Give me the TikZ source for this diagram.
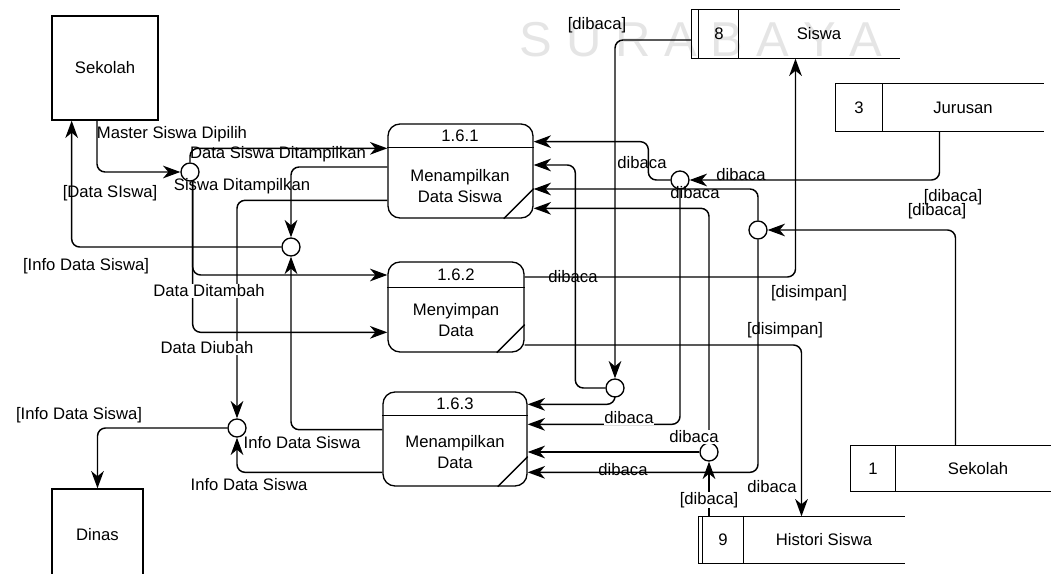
\documentclass[tikz,border=0pt]{standalone}
\usepackage{fontspec}
\setmainfont{Liberation Sans}
\usetikzlibrary{arrows.meta}

\tikzset{
  flow/.style={line width=1.1pt, rounded corners=6pt, arrows={-Stealth[length=13pt,width=9.5pt,inset=4pt]}},
  jn/.style={circle, draw, line width=1pt, fill=white, minimum size=13.5pt, inner sep=0pt},
  ent/.style={rectangle, draw, line width=1pt},
  proses/.style={rectangle, draw, rounded corners=9pt, line width=1pt},
  store/.style={rectangle, draw=none, inner sep=0pt},
  lbl/.style={inner sep=1pt},
  lblbg/.style={inner sep=0.5pt, fill=white}
}

\begin{document}
\begin{tikzpicture}[x=0.75pt, y=-0.75pt, line width=1pt, font=\fontsize{12.5}{15.5}\selectfont]

\useasboundingbox (0,0) rectangle (1051,574);

% watermark
\node[text=gray!20, font=\fontsize{36.75}{40}\selectfont] (wm) at (701,40) {S U R A B A Y A};

% external entities
\node[ent, minimum width=79.5pt, minimum height=78pt] (ext1) at (105,68) {Sekolah};
\node[ent, minimum width=68.25pt, minimum height=69pt] (ext2) at (97.5,535) {Dinas};

% processes
\node[proses, minimum width=108.75pt, minimum height=70.5pt] (p1) at (460.5,171) {};
\draw ([yshift=-18pt]p1.north west) -- ([yshift=-18pt]p1.north east);
\draw ([xshift=-22.5pt]p1.south east) -- ([yshift=22.5pt]p1.south east);
\node (p1n) at (460,136) {1.6.1};
\node[align=center] (p1t) at (460,186) {Menampilkan\\Data Siswa};

\node[proses, minimum width=102pt, minimum height=67.5pt] (p2) at (456,307) {};
\draw ([yshift=-19.5pt]p2.north west) -- ([yshift=-19.5pt]p2.north east);
\draw ([xshift=-21pt]p2.south east) -- ([yshift=21pt]p2.south east);
\node (p2n) at (456,275) {1.6.2};
\node[align=center] (p2t) at (456,320) {Menyimpan\\Data};

\node[proses, minimum width=108pt, minimum height=70.5pt] (p3) at (455,439) {};
\draw ([yshift=-18pt]p3.north west) -- ([yshift=-18pt]p3.north east);
\draw ([xshift=-22.5pt]p3.south east) -- ([yshift=22.5pt]p3.south east);
\node (p3n) at (455,404) {1.6.3};
\node[align=center] (p3t) at (455,452) {Menampilkan\\Data};

% data stores
\node[store, minimum width=155.25pt, minimum height=36pt] (s8) at (795.5,34) {};
\draw (s8.north east) -- (s8.north west) -- (s8.south west) -- (s8.south east);
\draw ([xshift=5.25pt]s8.north west) -- ([xshift=5.25pt]s8.south west);
\draw ([xshift=35.25pt]s8.north west) -- ([xshift=35.25pt]s8.south west);
\node (s8n) at (719,34) {8};
\node (s8t) at (819,34) {Siswa};

\node[store, minimum width=155.25pt, minimum height=35.25pt] (s3) at (939.5,107.5) {};
\draw (s3.north east) -- (s3.north west) -- (s3.south west) -- (s3.south east);
\draw ([xshift=35.25pt]s3.north west) -- ([xshift=35.25pt]s3.south west);
\node (s3n) at (859,108) {3};
\node (s3t) at (963,108) {Jurusan};

\node[store, minimum width=156.75pt, minimum height=33.75pt] (s1) at (955.5,468.5) {};
\draw (s1.north east) -- (s1.north west) -- (s1.south west) -- (s1.south east);
\draw ([xshift=33.75pt]s1.north west) -- ([xshift=33.75pt]s1.south west);
\node (s1n) at (873,469) {1};
\node (s1t) at (978,469) {Sekolah};

\node[store, minimum width=153.75pt, minimum height=34.5pt] (s9) at (801.5,540) {};
\draw (s9.north east) -- (s9.north west) -- (s9.south west) -- (s9.south east);
\draw ([xshift=3pt]s9.north west) -- ([xshift=3pt]s9.south west);
\draw ([xshift=33.75pt]s9.north west) -- ([xshift=33.75pt]s9.south west);
\node (s9n) at (723,540) {9};
\node (s9t) at (824,540) {Histori Siswa};

% junctions
\node[jn] (j1) at (190,172) {};
\node[jn] (j2) at (291,247) {};
\node[jn] (j3) at (680,180) {};
\node[jn] (j4) at (758,230) {};
\node[jn] (j5) at (615,388) {};
\node[jn] (j6) at (709,452) {};
\node[jn] (j7) at (237,428) {};

% flows, left part
\draw[flow] ([xshift=-6pt]ext1.south) |- (j1.west);
\draw[flow] (j1.north) |- ([yshift=17pt]p1.west);
\draw[flow] ([xshift=2pt]j1.south) |- ([yshift=24pt]p2.west);
\draw[flow] ([xshift=2pt]j1.south) |- ([yshift=-19pt]p2.west);
\draw[flow] ([yshift=3pt]p1.west) -| (j2.north);
\draw[flow] ([yshift=-22pt]p1.west) -| (j7.north);
\draw[flow] (j2.west) -| ([xshift=-25pt]ext1.south);
\draw[flow] ([yshift=7pt]p3.west) -| (j2.south);
\draw[flow] ([yshift=-25pt]p3.west) -| (j7.south);
\draw[flow] (j7.west) -| (ext2.north);

% flows, right part
\draw[flow] ([yshift=-4.5pt]s8.west) -| (j5.north);
\draw[flow] (j5.south) |- ([yshift=26pt]p3.east);
\draw[flow] (j5.west) -- ++(-30,0) |- ([yshift=4.5pt]p1.east);
\draw[flow] (j3.west) -- ++(-22,0) |- ([yshift=22pt]p1.east);
\draw[flow] (s3.south) |- (j3.east);
\draw[flow] (j3.south) |- ([yshift=11pt]p3.east);
\draw[flow] (j4.north) |- ([yshift=-13.5pt]p1.east);
\draw[flow] (j6.north) |- ([yshift=-28pt]p1.east);
\draw[flow] (s9.north -| j6.south) -- (j6.south);
\draw[flow] (j6.west) -- (j6.west -| p3.east);
\draw[flow] (s1.north) |- (j4.east);
\draw[flow] (j4.south) |- ([yshift=-25pt]p3.east);
\draw[flow] ([yshift=22.5pt]p2.east) -| (s8.south);
\draw[flow] ([yshift=-28.5pt]p2.east) -| (s9.north);

% labels
\node[lbl] (l1) at (172,134) {Master Siswa Dipilih};
\node[lbl] (l2) at (278,154) {Data Siswa Ditampilkan};
\node[lbl] (l3) at (242,186) {Siswa Ditampilkan};
\node[lbl] (l4) at (110,193) {[Data SIswa]};
\node[lbl] (l5) at (86,266) {[Info Data Siswa]};
\node[lblbg] (l6) at (209,291) {Data Ditambah};
\node[lblbg] (l7) at (207,348) {Data Diubah};
\node[lbl] (l8) at (79,415) {[Info Data Siswa]};
\node[lbl] (l9) at (302,443) {Info Data Siswa};
\node[lbl] (l10) at (249,485) {Info Data Siswa};
\node[lbl] (l11) at (597,25) {[dibaca]};
\node[lbl] (l12) at (642,163) {dibaca};
\node[lbl] (l13) at (741,175) {dibaca};
\node[lbl] (l14) at (695,193) {dibaca};
\node[lbl] (l15) at (953,197) {[dibaca]};
\node[lbl] (l16) at (937,211) {[dibaca]};
\node[lbl] (l17) at (573,277) {dibaca};
\node[lbl] (l18) at (809,293) {[disimpan]};
\node[lbl] (l19) at (785,330) {[disimpan]};
\node[lblbg] (l20) at (629,418) {dibaca};
\node[lblbg] (l21) at (694,437) {dibaca};
\node[lbl] (l22) at (623,470) {dibaca};
\node[lbl] (l23) at (772,487) {dibaca};
\node[lblbg] (l24) at (709,500) {[dibaca]};

\end{tikzpicture}
\end{document}
